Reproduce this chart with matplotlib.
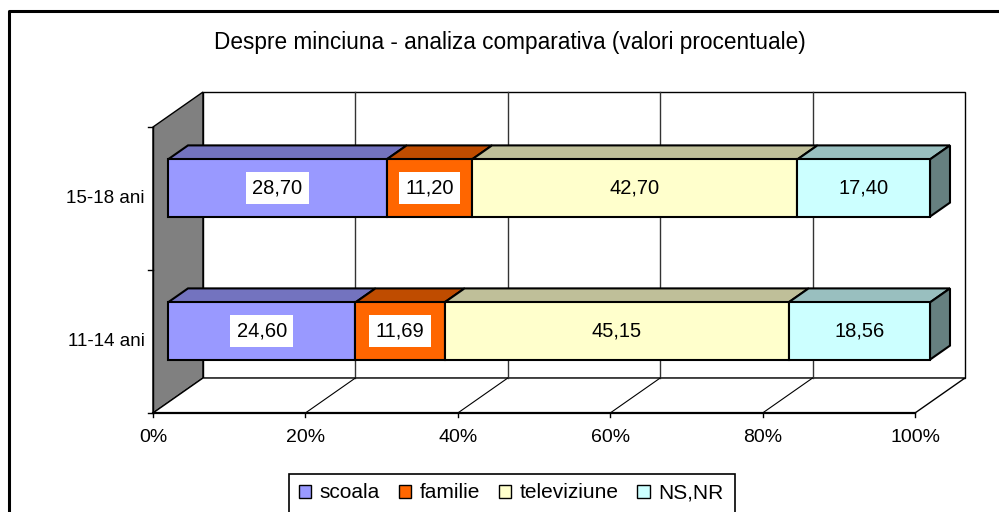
import matplotlib
matplotlib.use("Agg")
import matplotlib.pyplot as plt
from matplotlib.patches import Polygon, Rectangle, Patch

# ---- data ----
categories = ["11-14 ani", "15-18 ani"]
series = ["scoala", "familie", "televiziune", "NS,NR"]
values = {
    "scoala":      [24.60, 28.70],
    "familie":     [11.69, 11.20],
    "televiziune": [45.15, 42.70],
    "NS,NR":       [18.56, 17.40],
}
labels = {
    "scoala":      ["24,60", "28,70"],
    "familie":     ["11,69", "11,20"],
    "televiziune": ["45,15", "42,70"],
    "NS,NR":       ["18,56", "17,40"],
}
xticks = [0, 20, 40, 60, 80, 100]
xticklabels = ["0%", "20%", "40%", "60%", "80%", "100%"]
title = "Despre minciuna - analiza comparativa (valori procentuale)"

front_colors = {"scoala": "#9999FF", "familie": "#FF6600",
                "televiziune": "#FFFFCC", "NS,NR": "#CCFFFF"}
top_colors = {"scoala": "#7373BF", "familie": "#BF4C00",
              "televiziune": "#BFBF99", "NS,NR": "#99BFBF"}
side_colors = {"scoala": "#4D4D80", "familie": "#803300",
               "televiziune": "#808066", "NS,NR": "#668080"}
boxed = {"scoala": True, "familie": True, "televiziune": False, "NS,NR": False}

FONT = "Liberation Sans"

# ---- projection (layout) ----
X0, W = 153.0, 762.0          # front plane: 0% x-pixel, width of 100%
Y0, H = 413.0, 143.0          # front floor y-pixel, pixels per category unit
DX, DY = 50.0, -35.0          # depth offset of back plane
NCAT = len(categories)
BAR_H = 0.4
D1, D2 = 0.3, 0.7


def proj(p, v, d):
    return (X0 + W * p / 100.0 + DX * d, Y0 - H * v + DY * d)


fig = plt.figure(figsize=(9.99, 5.12), dpi=100)
ax = fig.add_axes([0, 0, 1, 1])
ax.set_xlim(0, 999)
ax.set_ylim(512, 0)
ax.axis("off")

# outer chart border (left & top visible)
ax.plot([8.5, 8.5, 1010], [520, 10.5, 10.5], color="black", lw=2.2,
        solid_capstyle="butt", zorder=1)

# walls
left_wall = [proj(0, 0, 0), proj(0, NCAT, 0), proj(0, NCAT, 1), proj(0, 0, 1)]
ax.add_patch(Polygon(left_wall, closed=True, facecolor="#808080",
                     edgecolor="black", lw=1.0, zorder=2))
back_wall = [proj(0, 0, 1), proj(100, 0, 1), proj(100, NCAT, 1), proj(0, NCAT, 1)]
ax.add_patch(Polygon(back_wall, closed=True, facecolor="white",
                     edgecolor="black", lw=1.0, zorder=2))
floor = [proj(0, 0, 0), proj(100, 0, 0), proj(100, 0, 1), proj(0, 0, 1)]
ax.add_patch(Polygon(floor, closed=True, facecolor="white",
                     edgecolor="black", lw=1.0, zorder=2))

# gridlines on back wall and floor
for t in xticks[1:-1]:
    a, b = proj(t, 0, 1), proj(t, NCAT, 1)
    ax.plot([a[0], b[0]], [a[1], b[1]], color="#333333", lw=1.0, zorder=3)
    c = proj(t, 0, 0)
    ax.plot([c[0], a[0]], [c[1], a[1]], color="black", lw=0.8, zorder=3)

# front floor edge (axis line) with ticks
a, b = proj(0, 0, 0), proj(100, 0, 0)
ax.plot([a[0], b[0]], [a[1], b[1]], color="black", lw=1.6, zorder=4)
for t, lab in zip(xticks, xticklabels):
    x, y = proj(t, 0, 0)
    ax.plot([x, x], [y, y + 4], color="black", lw=1.0, zorder=4)
    ax.text(x, y + 24, lab, ha="center", va="center", fontsize=14,
            family=FONT, zorder=5)

# category axis (left wall front edge) with ticks
a, b = proj(0, 0, 0), proj(0, NCAT, 0)
ax.plot([a[0], b[0]], [a[1], b[1]], color="black", lw=1.0, zorder=4)
for i in range(NCAT + 1):
    x, y = proj(0, i, 0)
    ax.plot([x - 5, x], [y, y], color="black", lw=1.0, zorder=4)
for i, cat in enumerate(categories):
    x, y = proj(0, i + 0.5, 0)
    ax.text(x - 8, y, cat, ha="right", va="center", fontsize=13.5,
            family=FONT, zorder=5)

# bars
for i, cat in enumerate(categories):
    v = i + 0.5
    lo, hi = v - BAR_H / 2, v + BAR_H / 2
    cum = 0.0
    for k, s in enumerate(series):
        val = values[s][i]
        c0, c1 = cum, cum + val
        cum = c1
        front = [proj(c0, lo, D1), proj(c1, lo, D1), proj(c1, hi, D1), proj(c0, hi, D1)]
        top = [proj(c0, hi, D1), proj(c1, hi, D1), proj(c1, hi, D2), proj(c0, hi, D2)]
        ax.add_patch(Polygon(top, closed=True, facecolor=top_colors[s],
                             edgecolor="black", lw=1.5, zorder=6, joinstyle="miter"))
        ax.add_patch(Polygon(front, closed=True, facecolor=front_colors[s],
                             edgecolor="black", lw=1.5, zorder=7, joinstyle="miter"))
        if k == len(series) - 1:
            side = [proj(c1, lo, D1), proj(c1, hi, D1), proj(c1, hi, D2), proj(c1, lo, D2)]
            ax.add_patch(Polygon(side, closed=True, facecolor=side_colors[s],
                                 edgecolor="black", lw=1.5, zorder=6, joinstyle="miter"))
        cx, cy = proj((c0 + c1) / 2, v, D1)
        bbox = None
        if boxed[s]:
            bbox = dict(boxstyle="square,pad=0.32", facecolor="white",
                        edgecolor="none")
        ax.text(cx, cy, labels[s][i], ha="center", va="center", fontsize=14.5,
                family=FONT, zorder=8, bbox=bbox)

# title
ax.text(510, 42, title, ha="center", va="center", fontsize=16.3, family=FONT,
        zorder=5)

# legend
ax.add_patch(Rectangle((289, 474), 446, 60, facecolor="white",
                       edgecolor="black", lw=1.2, zorder=5))
handles = [Patch(facecolor=front_colors[s], edgecolor="black", lw=1.0)
           for s in series]
leg = fig.legend(handles, series, loc="center", ncol=4,
                 bbox_to_anchor=(511 / 999, 1 - 493 / 512), frameon=False,
                 prop={"family": FONT, "size": 15}, handlelength=0.6,
                 handleheight=0.6, handletextpad=0.4, columnspacing=0.9,
                 borderpad=0.2)
leg.set_zorder(10)

fig.savefig("out.png", dpi=100)
